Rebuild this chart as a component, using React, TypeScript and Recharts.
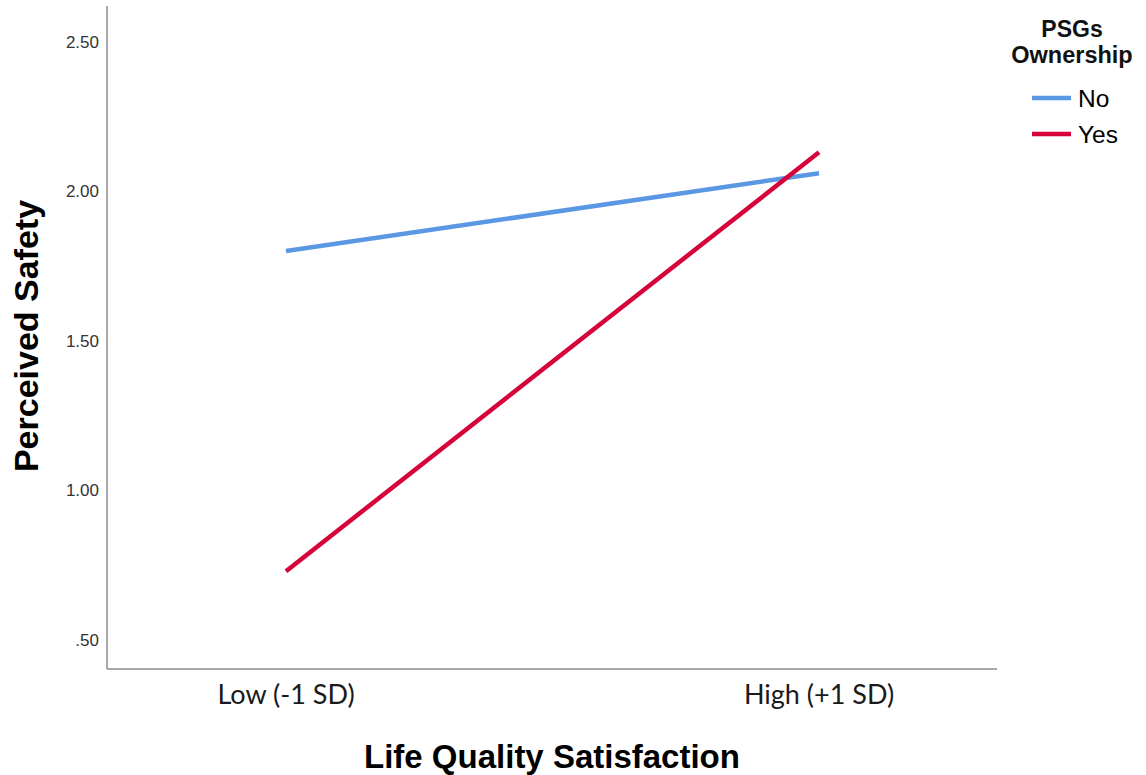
import { LineChart, Line, XAxis, YAxis, Legend, Label } from "recharts";

const levels = ["Low (-1 SD)", "High (+1 SD)"];
const noValues = [1.8, 2.06];
const yesValues = [0.73, 2.13];
const yTicks = [0.5, 1.0, 1.5, 2.0, 2.5];
const groupNames = ["No", "Yes"];

const data = levels.map((level, i) => ({
  level,
  no: noValues[i],
  yes: yesValues[i],
}));

const BLUE = "#5a98e4";
const RED = "#d6043b";
const ARIAL = "'Liberation Sans', Arial, sans-serif";

const formatTick = (v: number) => (v < 1 ? v.toFixed(2).slice(1) : v.toFixed(2));

const LegendBox = (props: any) => {
  const items = props.payload || [];
  return (
    <svg width={156} height={150} style={{ display: "block" }}>
      <text x={82} y={22} textAnchor="middle" fontFamily={ARIAL} fontWeight="bold" fontSize={23} fill="#111">
        PSGs
      </text>
      <text x={82} y={48} textAnchor="middle" fontFamily={ARIAL} fontWeight="bold" fontSize={23.5} fill="#111">
        Ownership
      </text>
      {items.map((item: any, i: number) => (
        <g key={item.value}>
          <line x1={42} x2={81} y1={83 + i * 36} y2={83 + i * 36} stroke={item.color} strokeWidth={4.5} />
          <text x={88} y={92 + i * 36} fontFamily={ARIAL} fontSize={24.5} fill="#000">
            {item.value}
          </text>
        </g>
      ))}
    </svg>
  );
};

const App = () => {
  return (
    <div style={{ position: "absolute", left: 0, top: 0, background: "#fff" }}>
      <LineChart width={1146} height={775} data={data} margin={{ top: 6, right: 149, bottom: 0, left: 7 }}>
        <XAxis
          dataKey="level"
          height={106}
          padding={{ left: 179, right: 178 }}
          tickLine={false}
          tickMargin={10}
          axisLine={{ stroke: "#8c8c8c", strokeWidth: 1.5 }}
          tick={{ fontFamily: "Lato, sans-serif", fontSize: 27, fill: "#1a1a1a" }}
          label={
            <Label
              content={() => (
                <text x={552} y={768} textAnchor="middle" fontFamily={ARIAL} fontWeight="bold" fontSize={33} fill="#000">
                  Life Quality Satisfaction
                </text>
              )}
            />
          }
        />
        <YAxis
          width={100}
          domain={[0.403, 2.619]}
          allowDataOverflow
          ticks={yTicks}
          tickFormatter={formatTick}
          tickLine={false}
          axisLine={{ stroke: "#8c8c8c", strokeWidth: 1.5 }}
          tick={{ fontFamily: ARIAL, fontSize: 17, fill: "#333" }}
          label={
            <Label
              content={() => (
                <text
                  x={38}
                  y={336}
                  transform="rotate(-90, 38, 336)"
                  textAnchor="middle"
                  fontFamily={ARIAL}
                  fontWeight="bold"
                  fontSize={34}
                  fill="#000"
                >
                  Perceived Safety
                </text>
              )}
            />
          }
        />
        <Legend
          layout="vertical"
          align="center"
          verticalAlign="middle"
          wrapperStyle={{ left: 990, top: 15, width: 156, height: 150 }}
          content={LegendBox}
        />
        <Line
          type="linear"
          dataKey="no"
          name={groupNames[0]}
          stroke={BLUE}
          strokeWidth={4.5}
          dot={false}
          activeDot={false}
          isAnimationActive={false}
        />
        <Line
          type="linear"
          dataKey="yes"
          name={groupNames[1]}
          stroke={RED}
          strokeWidth={4.5}
          dot={false}
          activeDot={false}
          isAnimationActive={false}
        />
      </LineChart>
    </div>
  );
};

export default App;
